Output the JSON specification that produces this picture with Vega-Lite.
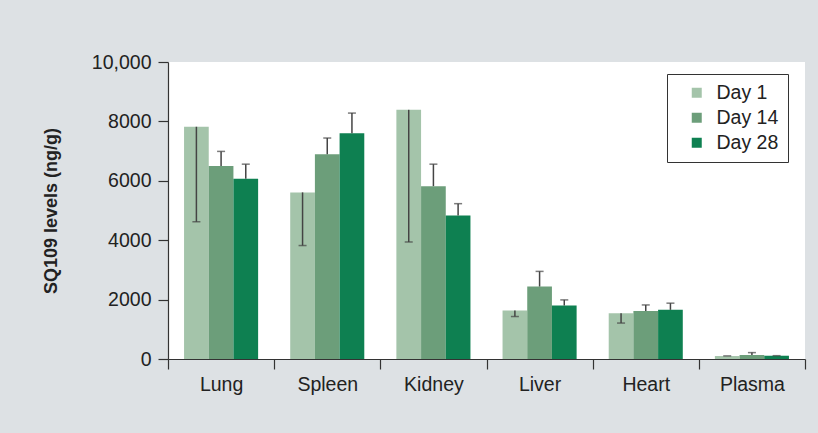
{
  "$schema": "https://vega.github.io/schema/vega-lite/v6.json",
  "width": 637,
  "height": 297,
  "autosize": {"type": "none"},
  "padding": {"left": 168, "top": 62, "right": 13, "bottom": 74},
  "background": "#dde1e4",
  "config": {
    "font": "Liberation Sans",
    "view": {"fill": "white", "stroke": null}
  },
  "data": {
    "values": [
      {"organ": "Lung", "day": "Day 1", "value": 7820, "err": 4620},
      {"organ": "Lung", "day": "Day 14", "value": 6500, "err": 6990},
      {"organ": "Lung", "day": "Day 28", "value": 6070, "err": 6560},
      {"organ": "Spleen", "day": "Day 1", "value": 5610, "err": 3820},
      {"organ": "Spleen", "day": "Day 14", "value": 6890, "err": 7440},
      {"organ": "Spleen", "day": "Day 28", "value": 7600, "err": 8280},
      {"organ": "Kidney", "day": "Day 1", "value": 8390, "err": 3940},
      {"organ": "Kidney", "day": "Day 14", "value": 5820, "err": 6560},
      {"organ": "Kidney", "day": "Day 28", "value": 4830, "err": 5230},
      {"organ": "Liver", "day": "Day 1", "value": 1630, "err": 1430},
      {"organ": "Liver", "day": "Day 14", "value": 2440, "err": 2950},
      {"organ": "Liver", "day": "Day 28", "value": 1800, "err": 1990},
      {"organ": "Heart", "day": "Day 1", "value": 1540, "err": 1210},
      {"organ": "Heart", "day": "Day 14", "value": 1620, "err": 1820},
      {"organ": "Heart", "day": "Day 28", "value": 1655, "err": 1880},
      {"organ": "Plasma", "day": "Day 1", "value": 100, "err": 105},
      {"organ": "Plasma", "day": "Day 14", "value": 135, "err": 215},
      {"organ": "Plasma", "day": "Day 28", "value": 110, "err": 112}
    ]
  },
  "encoding": {
    "x": {
      "field": "organ",
      "type": "nominal",
      "sort": ["Lung", "Spleen", "Kidney", "Liver", "Heart", "Plasma"],
      "scale": {"paddingInner": 0, "paddingOuter": 0},
      "axis": {
        "title": null,
        "labelAngle": 0,
        "tickBand": "extent",
        "tickSize": 10,
        "tickColor": "#333",
        "tickWidth": 1.2,
        "domainColor": "#333",
        "domainWidth": 1.2,
        "labelFontSize": 19.5,
        "labelColor": "#222",
        "labelPadding": 6
      }
    },
    "xOffset": {
      "field": "day",
      "type": "nominal",
      "sort": ["Day 1", "Day 14", "Day 28"],
      "scale": {"paddingInner": 0, "paddingOuter": 0.65}
    }
  },
  "layer": [
    {
      "mark": {"type": "bar"},
      "encoding": {
        "y": {
          "field": "value",
          "type": "quantitative",
          "scale": {"domain": [0, 10000], "nice": false},
          "axis": {
            "title": "SQ109 levels (ng/g)",
            "titleFontSize": 18,
            "titleFontWeight": "bold",
            "titleColor": "#222",
            "titlePadding": 31,
            "values": [0, 2000, 4000, 6000, 8000, 10000],
            "labelExpr": "datum.value == 10000 ? '10,000' : format(datum.value, 'd')",
            "grid": false,
            "tickSize": 10,
            "tickColor": "#333",
            "tickWidth": 1.2,
            "domainColor": "#333",
            "domainWidth": 1.2,
            "labelFontSize": 19.5,
            "labelColor": "#222",
            "labelPadding": 7
          }
        },
        "color": {
          "field": "day",
          "type": "nominal",
          "sort": ["Day 1", "Day 14", "Day 28"],
          "scale": {"domain": ["Day 1", "Day 14", "Day 28"], "range": ["#a4c4aa", "#6c9e7a", "#0e8051"]},
          "legend": {
            "title": null,
            "orient": "none",
            "legendX": 499,
            "legendY": 12,
            "fillColor": "white",
            "strokeColor": "#333",
            "padding": 9,
            "symbolType": "square",
            "symbolSize": 100,
            "symbolStrokeWidth": 0,
            "symbolOffset": 11,
            "labelFontSize": 19.5,
            "labelColor": "#222",
            "labelOffset": 10,
            "rowPadding": 4
          }
        }
      }
    },
    {
      "mark": {"type": "rule", "color": "#444", "strokeWidth": 1.5},
      "encoding": {
        "y": {"field": "value", "type": "quantitative"},
        "y2": {"field": "err"}
      }
    },
    {
      "mark": {"type": "tick", "color": "#444", "thickness": 1.5, "size": 8, "orient": "horizontal"},
      "encoding": {
        "y": {"field": "err", "type": "quantitative"}
      }
    }
  ]
}
